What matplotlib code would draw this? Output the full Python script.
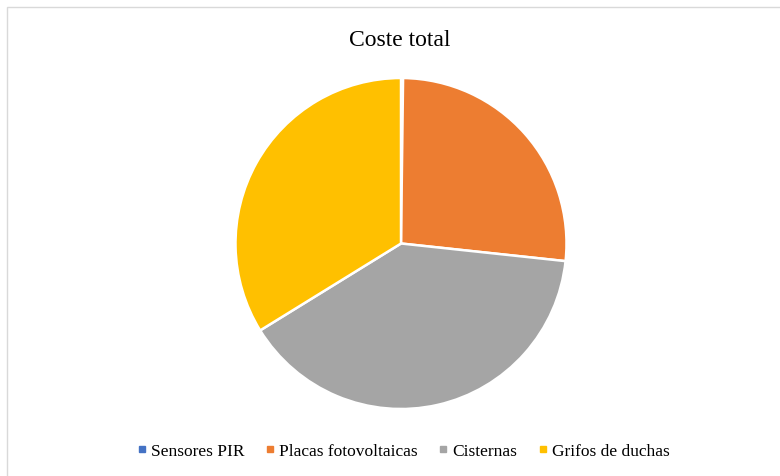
import matplotlib
matplotlib.use("Agg")
import matplotlib.pyplot as plt
from matplotlib.lines import Line2D
from matplotlib.patches import Rectangle

categories = ["Sensores PIR", "Placas fotovoltaicas", "Cisternas", "Grifos de duchas"]
values = [0.2, 26.5, 39.5, 33.8]
colors = ["#4472C4", "#ED7D31", "#A5A5A5", "#FFC000"]
title = "Coste total"

plt.rcParams['font.family'] = ['Liberation Serif', 'DejaVu Serif']

W, H = 780, 477
fig = plt.figure(figsize=(W / 100, H / 100), dpi=100)

# outer chart frame (left and top visible)
fig.patches.append(Rectangle((7 / W, -0.1), 1.2, (H - 8) / H + 0.1,
                             transform=fig.transFigure, fill=False,
                             edgecolor="#D9D9D9", linewidth=1.0))

cx, cy, r = 401, 244.5, 165.5
ax = fig.add_axes([(cx - r) / W, (H - cy - r) / H, 2 * r / W, 2 * r / H])
ax.pie(values, colors=colors, startangle=90, counterclock=False, radius=1,
       wedgeprops=dict(edgecolor="white", linewidth=1.8))
ax.set_xlim(-1.0, 1.0)
ax.set_ylim(-1.0, 1.0)
ax.set_aspect("equal")
ax.axis("off")

fig.text(400 / W, 1 - 40 / H, title, ha="center", va="center", fontsize=17, color="#000000")

handles = [Line2D([], [], linestyle="none", marker="s", markersize=4.5,
                  markerfacecolor=c, markeredgecolor=c) for c in colors]
fig.legend(handles, categories, loc="center", bbox_to_anchor=(404 / W, 1 - 452 / H),
           ncol=4, frameon=False, fontsize=12.5, handlelength=0.4,
           handletextpad=0.35, columnspacing=1.25, borderaxespad=0, borderpad=0)

fig.savefig("out.png", dpi=100, facecolor="white")
